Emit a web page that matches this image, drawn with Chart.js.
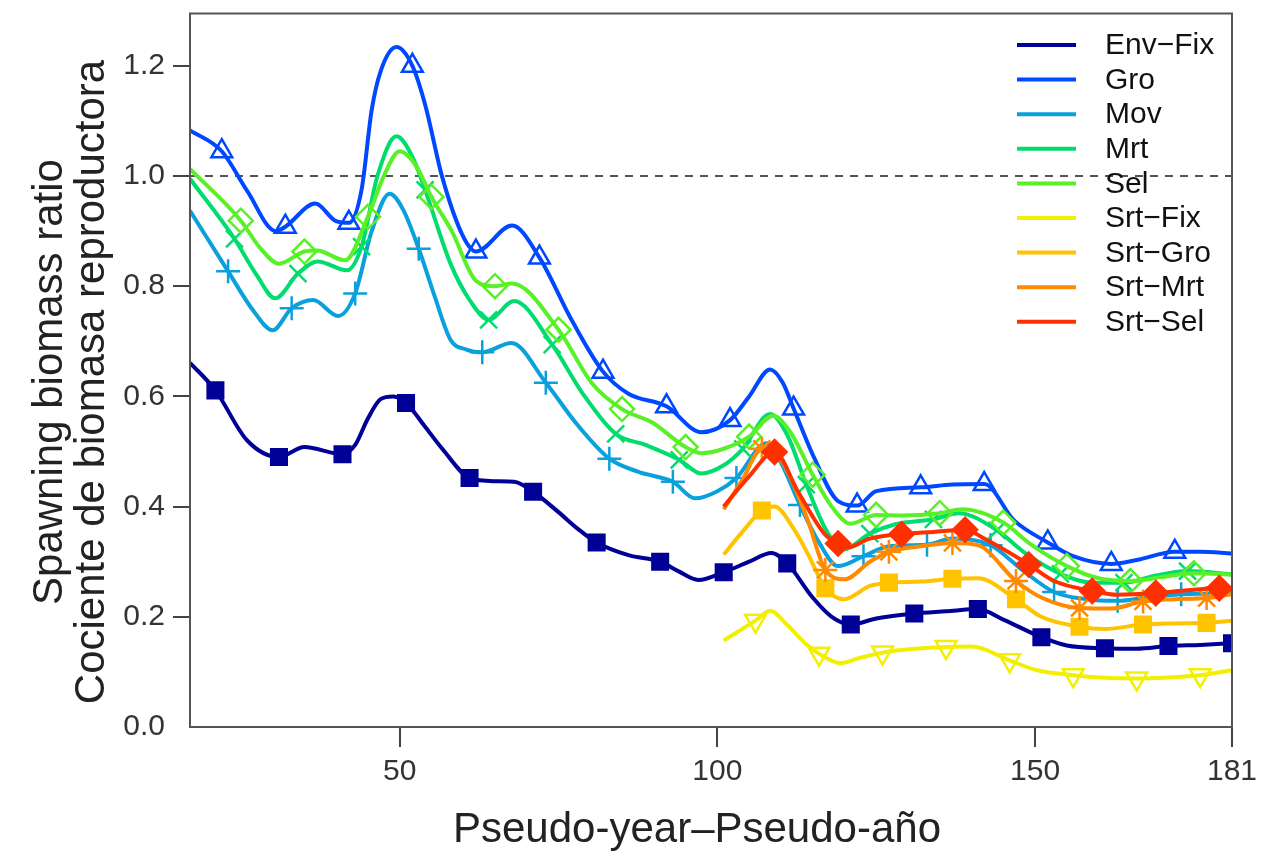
<!DOCTYPE html>
<html>
<head>
<meta charset="utf-8">
<title>Spawning biomass ratio</title>
<script src="https://cdn.jsdelivr.net/npm/chart.js@4.4.1/dist/chart.umd.min.js"></script>
<style>
  html, body { margin: 0; padding: 0; background: #fff; }
</style>
</head>
<body>
<canvas id="sbr" width="1263" height="852"></canvas>
<script>
'use strict';

// ---- data ----
const names = ['Env\u2212Fix', 'Gro', 'Mov', 'Mrt', 'Sel', 'Srt\u2212Fix', 'Srt\u2212Gro', 'Srt\u2212Mrt', 'Srt\u2212Sel'];

const envX = [17, 21, 26, 31, 35, 41, 43, 45, 47, 49, 51, 54, 56.7, 61, 65, 68, 71, 75, 78, 81, 86, 91, 94, 97, 101, 105, 108.5, 111, 115, 118, 121, 125, 131, 136, 141, 145, 151, 155, 161, 166, 171, 176, 181];
const envY = [0.661, 0.611, 0.520, 0.490, 0.508, 0.495, 0.512, 0.560, 0.595, 0.600, 0.588, 0.545, 0.505, 0.452, 0.446, 0.445, 0.427, 0.390, 0.360, 0.335, 0.312, 0.300, 0.282, 0.267, 0.281, 0.300, 0.316, 0.297, 0.235, 0.200, 0.186, 0.197, 0.206, 0.210, 0.214, 0.195, 0.163, 0.148, 0.143, 0.142, 0.147, 0.149, 0.152];

const groX = [17, 22, 26, 30.5, 32, 36.7, 40, 42, 44, 45.6, 47, 49.5, 52, 54, 56.7, 60, 62, 67.7, 72, 77, 82, 86, 92, 97.5, 102, 105, 108.3, 110.3, 112, 115.3, 119, 122, 125, 132, 137, 142, 146.7, 152, 156, 162, 166, 172, 176, 181];
const groY = [1.083, 1.045, 0.973, 0.900, 0.908, 0.950, 0.918, 0.915, 0.975, 1.120, 1.190, 1.234, 1.200, 1.130, 0.998, 0.890, 0.863, 0.910, 0.852, 0.740, 0.645, 0.605, 0.582, 0.535, 0.557, 0.600, 0.649, 0.625, 0.578, 0.487, 0.410, 0.402, 0.428, 0.435, 0.440, 0.441, 0.375, 0.335, 0.310, 0.296, 0.303, 0.318, 0.318, 0.315];

const movX = [17, 23, 27, 30, 33, 36.4, 40.3, 43, 45.6, 48.4, 50.5, 53, 55.5, 58, 60.5, 63, 67.6, 73, 78, 83, 87.6, 93, 96.5, 100, 103, 107.7, 110, 113, 116, 119, 123, 127, 133, 137, 143, 148, 153, 158, 163, 168, 173, 177, 181];
const movY = [0.937, 0.827, 0.755, 0.720, 0.760, 0.775, 0.746, 0.787, 0.900, 0.968, 0.940, 0.868, 0.782, 0.703, 0.685, 0.680, 0.697, 0.625, 0.548, 0.487, 0.463, 0.445, 0.415, 0.428, 0.452, 0.515, 0.480, 0.403, 0.335, 0.292, 0.310, 0.328, 0.331, 0.342, 0.330, 0.285, 0.245, 0.232, 0.229, 0.236, 0.241, 0.242, 0.243];

const mrtX = [17, 24, 27.5, 30.4, 34, 37.1, 41.7, 44, 46.5, 49.5, 52, 54, 58, 61, 64, 68, 74, 78.7, 84, 88.7, 94, 97.5, 101, 104, 108.3, 111, 114, 117, 119.8, 124, 128, 134, 138, 144, 148.5, 154, 159, 164, 169, 174, 181];
const mrtY = [0.995, 0.886, 0.820, 0.778, 0.823, 0.845, 0.829, 0.872, 1.000, 1.072, 1.035, 0.975, 0.841, 0.775, 0.739, 0.773, 0.694, 0.607, 0.532, 0.512, 0.485, 0.460, 0.475, 0.505, 0.568, 0.530, 0.440, 0.360, 0.322, 0.351, 0.368, 0.377, 0.388, 0.357, 0.315, 0.278, 0.262, 0.262, 0.275, 0.283, 0.277];

const selX = [17, 25, 28, 31, 35, 37, 41.4, 45, 47.5, 50, 52.5, 55, 58.2, 62, 65, 67.7, 75, 80.2, 85, 89.7, 95, 97.5, 101, 105, 108.8, 111.5, 115, 118, 121, 125, 129, 135, 138.5, 145, 149.5, 155, 160, 165, 170, 175, 181];
const selY = [1.013, 0.919, 0.870, 0.841, 0.863, 0.865, 0.847, 0.926, 1.000, 1.045, 1.020, 0.962, 0.900, 0.810, 0.800, 0.805, 0.721, 0.625, 0.577, 0.553, 0.508, 0.497, 0.505, 0.527, 0.565, 0.535, 0.458, 0.400, 0.369, 0.385, 0.384, 0.388, 0.395, 0.371, 0.330, 0.292, 0.270, 0.265, 0.272, 0.279, 0.277];

const sfX = [101, 106, 108.3, 111, 114, 116, 119.4, 122, 126, 131, 136, 140, 146, 150, 156, 160, 166, 171, 176, 181];
const sfY = [0.157, 0.193, 0.211, 0.185, 0.150, 0.133, 0.116, 0.124, 0.135, 0.142, 0.145, 0.146, 0.121, 0.104, 0.094, 0.090, 0.088, 0.090, 0.094, 0.103];

const sgX = [101, 104, 107, 109, 112, 114.3, 117, 120, 124, 127, 132, 137, 141, 147, 151, 157, 161, 167, 172, 177, 181];
const sgY = [0.313, 0.355, 0.393, 0.400, 0.360, 0.313, 0.252, 0.232, 0.256, 0.262, 0.264, 0.269, 0.270, 0.232, 0.200, 0.182, 0.178, 0.186, 0.188, 0.189, 0.193];

const smX = [101, 104, 107, 109, 112, 114.3, 117, 120, 124, 127, 132, 137, 141, 147, 151, 157, 162, 167, 172, 177, 181];
const smY = [0.395, 0.450, 0.505, 0.500, 0.440, 0.373, 0.285, 0.268, 0.300, 0.318, 0.328, 0.334, 0.330, 0.265, 0.235, 0.216, 0.215, 0.228, 0.232, 0.234, 0.241];

const ssX = [101, 105, 109, 112.7, 116.9, 119, 120.5, 124, 129, 134, 139, 142, 149, 153, 159, 163, 169, 174, 179, 181];
const ssY = [0.400, 0.455, 0.499, 0.427, 0.350, 0.333, 0.326, 0.342, 0.350, 0.354, 0.358, 0.342, 0.295, 0.265, 0.247, 0.240, 0.243, 0.248, 0.252, 0.250];

// first pseudo-year carrying a symbol for each run (one every 10 years after that)
const markStart = [21, 22, 23, 24, 25, 106, 107, 107, 109];

const xTicks = [50, 100, 150, 181];
const yTicks = [0, 0.2, 0.4, 0.6, 0.8, 1.0, 1.2];
const refLine = 1.0;

// ---- styling ----
const colors = ['#000096', '#0048FF', '#0AA0DC', '#00DC6E', '#5AF028', '#F2F000', '#FFC400', '#FF8A00', '#FF3000'];
const styles = ['rect', 'triangle', 'cross', 'crossRot', 'rectRot', 'triangle', 'rect', 'star', 'rectRot'];
const sizes  = [11, 12, 12, 12, 12, 12, 11, 12, 12];
const filled = [true, false, false, false, false, false, true, false, true];
const xs = [envX, groX, movX, mrtX, selX, sfX, sgX, smX, ssX];
const ys = [envY, groY, movY, mrtY, selY, sfY, sgY, smY, ssY];

Chart.defaults.font.family = '"Liberation Sans", Arial, sans-serif';

function isMark(i, x) {
  return x >= markStart[i] && Math.abs((x - markStart[i]) % 10) < 1e-6;
}

const datasets = names.map((name, i) => ({
  label: name,
  data: xs[i].map((x, k) => ({ x: x, y: ys[i][k] })),
  borderColor: colors[i],
  borderWidth: 4,
  cubicInterpolationMode: 'monotone',
  pointStyle: styles[i],
  pointRotation: i === 5 ? 180 : 0,
  pointRadius: c => isMark(i, c.raw.x) ? sizes[i] : 0,
  pointBorderWidth: 2.5,
  pointBorderColor: colors[i],
  pointBackgroundColor: filled[i] ? colors[i] : 'rgba(255,255,255,0)',
  order: names.length - i
}));

const decor = {
  id: 'decor',
  beforeDatasetsDraw(chart) {
    const { ctx, chartArea: a, scales } = chart;
    const py = scales.y.getPixelForValue(refLine);
    ctx.save();
    ctx.strokeStyle = '#555';
    ctx.lineWidth = 2;
    ctx.setLineDash([8, 7]);
    ctx.beginPath();
    ctx.moveTo(a.left, py);
    ctx.lineTo(a.right, py);
    ctx.stroke();
    ctx.restore();
  },
  afterDraw(chart) {
    const { ctx, chartArea: a } = chart;
    ctx.save();
    // frame
    ctx.strokeStyle = '#555';
    ctx.lineWidth = 2;
    ctx.strokeRect(a.left, a.top, a.right - a.left, a.bottom - a.top);

    // legend (lines only)
    ctx.font = '30px "Liberation Sans", Arial, sans-serif';
    ctx.textBaseline = 'middle';
    ctx.textAlign = 'left';
    chart.data.datasets.forEach((d, i) => {
      const yy = 45 + i * 34.6;
      ctx.strokeStyle = d.borderColor;
      ctx.lineWidth = 4;
      ctx.beginPath();
      ctx.moveTo(1017, yy);
      ctx.lineTo(1076, yy);
      ctx.stroke();
      ctx.fillStyle = '#111';
      ctx.fillText(d.label, 1105, yy + 1);
    });

    // axis titles
    ctx.fillStyle = '#222';
    ctx.font = '42px "Liberation Sans", Arial, sans-serif';
    ctx.textAlign = 'center';
    ctx.textBaseline = 'middle';
    ctx.save();
    ctx.translate(0, 382);
    ctx.rotate(-Math.PI / 2);
    ctx.fillText('Spawning biomass ratio', 0, 50);
    ctx.fillText('Cociente de biomasa reproductora', 0, 92);
    ctx.restore();
    ctx.font = '42px "Liberation Sans", Arial, sans-serif';
    ctx.textBaseline = 'alphabetic';
    ctx.fillText('Pseudo-year\u2013Pseudo-a\u00f1o', 697, 842);
    ctx.restore();
  }
};

new Chart(document.getElementById('sbr'), {
  type: 'line',
  data: { datasets: datasets },
  options: {
    responsive: false,
    animation: false,
    events: [],
    devicePixelRatio: 1,
    layout: { padding: { top: 8, right: 31, left: 0, bottom: 0 } },
    plugins: { legend: { display: false }, tooltip: { enabled: false } },
    scales: {
      x: {
        type: 'linear',
        min: 17,
        max: 181,
        afterBuildTicks: s => { s.ticks = xTicks.map(v => ({ value: v })); },
        afterFit: s => { s.height = 125; s.paddingLeft = 0; s.paddingRight = 0; },
        border: { display: false },
        grid: { drawOnChartArea: false, drawTicks: true, tickLength: 20, color: '#444', lineWidth: 2 },
        ticks: { color: '#333', font: { size: 30 }, padding: 7, maxRotation: 0, autoSkip: false }
      },
      y: {
        min: 0,
        max: 1.295,
        afterBuildTicks: s => { s.ticks = yTicks.map(v => ({ value: v })); },
        afterFit: s => { s.width = 190; s.paddingTop = 0; s.paddingBottom = 0; },
        border: { display: false },
        grid: {
          drawOnChartArea: false, drawTicks: true, tickLength: 17, lineWidth: 2,
          color: c => (c.tick && c.tick.value === 0) ? 'rgba(0,0,0,0)' : '#444'
        },
        ticks: { color: '#333', font: { size: 30 }, padding: 8, callback: v => v.toFixed(1) }
      }
    }
  },
  plugins: [decor]
});
</script>
</body>
</html>
